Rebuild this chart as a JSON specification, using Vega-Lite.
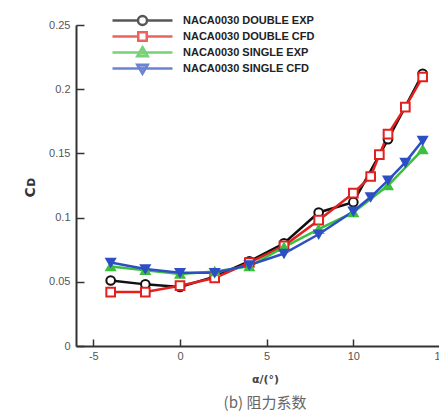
{
  "$schema": "https://vega.github.io/schema/vega-lite/v6.json",
  "autosize": "none",
  "padding": {"left": 76, "top": 25, "right": 0, "bottom": 73},
  "width": 364,
  "height": 321,
  "background": "white",
  "config": {
    "view": {"stroke": null},
    "font": "Liberation Sans"
  },
  "title": {
    "text": "(b) 阻力系数",
    "orient": "bottom",
    "anchor": "middle",
    "dx": 7,
    "offset": 12,
    "font": "Noto Sans CJK SC",
    "fontSize": 15,
    "fontWeight": "normal",
    "color": "#666666"
  },
  "data": {
    "values": [
      {"series": "NACA0030 DOUBLE EXP", "alpha": -4, "cd": 0.051},
      {"series": "NACA0030 DOUBLE EXP", "alpha": -2, "cd": 0.048},
      {"series": "NACA0030 DOUBLE EXP", "alpha": 0, "cd": 0.046},
      {"series": "NACA0030 DOUBLE EXP", "alpha": 2, "cd": 0.054},
      {"series": "NACA0030 DOUBLE EXP", "alpha": 4, "cd": 0.066},
      {"series": "NACA0030 DOUBLE EXP", "alpha": 6, "cd": 0.08},
      {"series": "NACA0030 DOUBLE EXP", "alpha": 8, "cd": 0.104},
      {"series": "NACA0030 DOUBLE EXP", "alpha": 10, "cd": 0.112},
      {"series": "NACA0030 DOUBLE EXP", "alpha": 12, "cd": 0.161},
      {"series": "NACA0030 DOUBLE EXP", "alpha": 14, "cd": 0.212},
      {"series": "NACA0030 DOUBLE CFD", "alpha": -4, "cd": 0.042},
      {"series": "NACA0030 DOUBLE CFD", "alpha": -2, "cd": 0.042},
      {"series": "NACA0030 DOUBLE CFD", "alpha": 0, "cd": 0.047},
      {"series": "NACA0030 DOUBLE CFD", "alpha": 2, "cd": 0.053},
      {"series": "NACA0030 DOUBLE CFD", "alpha": 4, "cd": 0.065},
      {"series": "NACA0030 DOUBLE CFD", "alpha": 6, "cd": 0.078},
      {"series": "NACA0030 DOUBLE CFD", "alpha": 8, "cd": 0.098},
      {"series": "NACA0030 DOUBLE CFD", "alpha": 10, "cd": 0.119},
      {"series": "NACA0030 DOUBLE CFD", "alpha": 11, "cd": 0.132},
      {"series": "NACA0030 DOUBLE CFD", "alpha": 11.5, "cd": 0.149},
      {"series": "NACA0030 DOUBLE CFD", "alpha": 12, "cd": 0.165},
      {"series": "NACA0030 DOUBLE CFD", "alpha": 13, "cd": 0.186},
      {"series": "NACA0030 DOUBLE CFD", "alpha": 14, "cd": 0.2095},
      {"series": "NACA0030 SINGLE EXP", "alpha": -4, "cd": 0.062},
      {"series": "NACA0030 SINGLE EXP", "alpha": -2, "cd": 0.059},
      {"series": "NACA0030 SINGLE EXP", "alpha": 0, "cd": 0.056},
      {"series": "NACA0030 SINGLE EXP", "alpha": 2, "cd": 0.058},
      {"series": "NACA0030 SINGLE EXP", "alpha": 4, "cd": 0.062},
      {"series": "NACA0030 SINGLE EXP", "alpha": 6, "cd": 0.077},
      {"series": "NACA0030 SINGLE EXP", "alpha": 8, "cd": 0.091},
      {"series": "NACA0030 SINGLE EXP", "alpha": 10, "cd": 0.104},
      {"series": "NACA0030 SINGLE EXP", "alpha": 12, "cd": 0.125},
      {"series": "NACA0030 SINGLE EXP", "alpha": 14, "cd": 0.153},
      {"series": "NACA0030 SINGLE CFD", "alpha": -4, "cd": 0.065},
      {"series": "NACA0030 SINGLE CFD", "alpha": -2, "cd": 0.06},
      {"series": "NACA0030 SINGLE CFD", "alpha": 0, "cd": 0.057},
      {"series": "NACA0030 SINGLE CFD", "alpha": 2, "cd": 0.057},
      {"series": "NACA0030 SINGLE CFD", "alpha": 4, "cd": 0.063},
      {"series": "NACA0030 SINGLE CFD", "alpha": 6, "cd": 0.072},
      {"series": "NACA0030 SINGLE CFD", "alpha": 8, "cd": 0.087},
      {"series": "NACA0030 SINGLE CFD", "alpha": 10, "cd": 0.105},
      {"series": "NACA0030 SINGLE CFD", "alpha": 11, "cd": 0.116},
      {"series": "NACA0030 SINGLE CFD", "alpha": 12, "cd": 0.129},
      {"series": "NACA0030 SINGLE CFD", "alpha": 13, "cd": 0.143},
      {"series": "NACA0030 SINGLE CFD", "alpha": 14, "cd": 0.16}
    ]
  },
  "resolve": {"axis": {"x": "independent", "y": "independent"}},
  "layer": [
    {
      "transform": [{"filter": "false"}],
      "mark": {"type": "point", "strokeWidth": 2.5},
      "encoding": {
        "stroke": {
          "field": "series", "type": "nominal",
          "scale": {
            "domain": ["NACA0030 DOUBLE EXP", "NACA0030 DOUBLE CFD", "NACA0030 SINGLE EXP", "NACA0030 SINGLE CFD"],
            "range": ["#111111", "#e3201f", "#3cbf3c", "#2c4fc4"]
          },
          "legend": {
            "orient": "none",
            "legendX": 60,
            "legendY": -11,
            "title": null,
            "padding": 0,
            "symbolSize": 100,
            "symbolStrokeWidth": 2.5,
            "labelOffset": 34,
            "labelFont": "Liberation Sans",
            "labelFontSize": 11,
            "labelFontWeight": "bold",
            "labelColor": "#222222",
            "rowPadding": -6,
            "labelLimit": 300
          }
        },
        "fill": {
          "field": "series", "type": "nominal",
          "scale": {
            "domain": ["NACA0030 DOUBLE EXP", "NACA0030 DOUBLE CFD", "NACA0030 SINGLE EXP", "NACA0030 SINGLE CFD"],
            "range": ["#ffffff", "#ffffff", "#3cbf3c", "#2c4fc4"]
          }
        },
        "shape": {
          "field": "series", "type": "nominal",
          "scale": {
            "domain": ["NACA0030 DOUBLE EXP", "NACA0030 DOUBLE CFD", "NACA0030 SINGLE EXP", "NACA0030 SINGLE CFD"],
            "range": [
              "M-6,0H-0.9M0.9,0H6M-0.9,0A0.9,0.9 0 1,0 0.9,0A0.9,0.9 0 1,0 -0.9,0Z",
              "M-6,0H-0.85M0.85,0H6M-0.85,-0.85H0.85V0.85H-0.85Z",
              "M-6,0H6M0,-1.05L1.05,0.75H-1.05Z",
              "M-6,0H6M-1.05,-0.75H1.05L0,1.05Z"
            ]
          }
        }
      }
    },
    {
      "mark": {"type": "line", "strokeWidth": 2.5},
      "encoding": {
        "x": {
          "field": "alpha", "type": "quantitative",
          "scale": {"domain": [-6, 15], "nice": false, "zero": false},
          "axis": {
            "orient": "bottom",
            "values": [-5, 0, 5, 10, 15],
            "labelExpr": "'' + datum.value",
            "grid": false,
            "labelFlush": false,
            "domainColor": "#333333", "domainWidth": 2,
            "tickColor": "#333333", "tickWidth": 1.5, "tickSize": -7,
            "labelPadding": 11, "labelFontSize": 11, "labelColor": "#555555",
            "title": "α/(°)",
            "titleFont": "DejaVu Sans", "titleFontSize": 11, "titleFontWeight": "bold",
            "titleColor": "#444444",
            "titleX": 189, "titleY": 33, "titleBaseline": "middle"
          }
        },
        "y": {
          "field": "cd", "type": "quantitative",
          "scale": {"domain": [0, 0.25], "nice": false},
          "axis": {
            "orient": "left",
            "values": [0, 0.05, 0.1, 0.15, 0.2, 0.25],
            "format": "~g",
            "grid": false,
            "domainColor": "#333333", "domainWidth": 2,
            "tickColor": "#333333", "tickWidth": 1.5, "tickSize": -8,
            "labelPadding": 14, "labelFontSize": 11, "labelColor": "#555555",
            "title": "Cᴅ",
            "titleFont": "DejaVu Sans", "titleFontSize": 14, "titleFontWeight": "bold",
            "titleColor": "#333333",
            "titleX": -46, "titleY": 162, "titleAngle": -90,
            "titleAlign": "center", "titleBaseline": "middle"
          }
        },
        "stroke": {"field": "series", "type": "nominal"}
      }
    },
    {
      "transform": [{"filter": "datum.series === 'NACA0030 DOUBLE EXP'"}],
      "mark": {"type": "point", "shape": "circle", "size": 75, "strokeWidth": 2, "stroke": "#111111", "fill": "#ffffff", "filled": true, "opacity": 1},
      "encoding": {
        "x": {"field": "alpha", "type": "quantitative", "axis": null},
        "y": {"field": "cd", "type": "quantitative", "axis": null}
      }
    },
    {
      "transform": [{"filter": "datum.series === 'NACA0030 DOUBLE CFD'"}],
      "mark": {"type": "point", "shape": "square", "size": 75, "strokeWidth": 2, "stroke": "#e3201f", "fill": "#ffffff", "filled": true, "opacity": 1},
      "encoding": {
        "x": {"field": "alpha", "type": "quantitative", "axis": null},
        "y": {"field": "cd", "type": "quantitative", "axis": null}
      }
    },
    {
      "transform": [{"filter": "datum.series === 'NACA0030 SINGLE EXP'"}],
      "mark": {"type": "point", "shape": "triangle-up", "size": 75, "strokeWidth": 2, "stroke": "#3cbf3c", "fill": "#3cbf3c", "filled": true, "opacity": 1},
      "encoding": {
        "x": {"field": "alpha", "type": "quantitative", "axis": null},
        "y": {"field": "cd", "type": "quantitative", "axis": null}
      }
    },
    {
      "transform": [{"filter": "datum.series === 'NACA0030 SINGLE CFD'"}],
      "mark": {"type": "point", "shape": "triangle-down", "size": 75, "strokeWidth": 2, "stroke": "#2c4fc4", "fill": "#2c4fc4", "filled": true, "opacity": 1},
      "encoding": {
        "x": {"field": "alpha", "type": "quantitative", "axis": null},
        "y": {"field": "cd", "type": "quantitative", "axis": null}
      }
    }
  ]
}
